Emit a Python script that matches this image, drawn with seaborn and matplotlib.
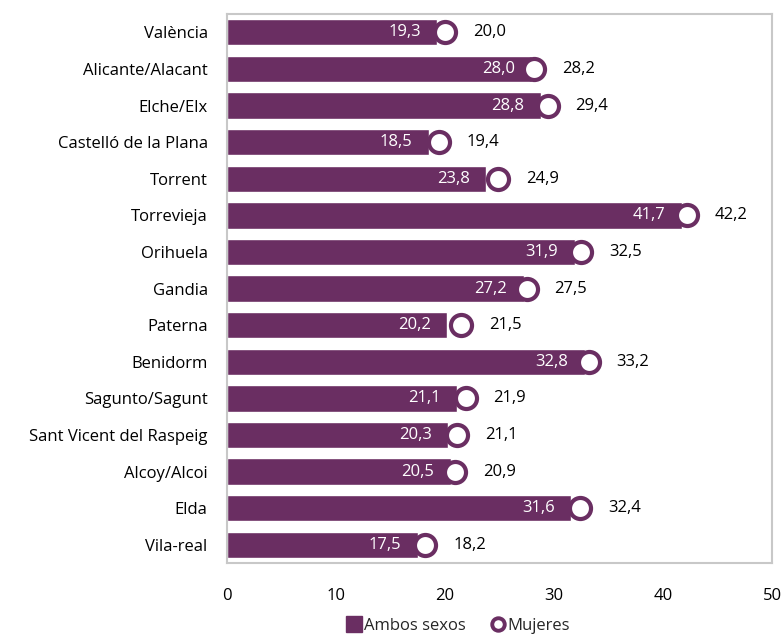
import matplotlib
matplotlib.use("Agg")
import matplotlib.pyplot as plt
from matplotlib.lines import Line2D
import seaborn as sns
import pandas as pd

municipios = ["València", "Alicante/Alacant", "Elche/Elx", "Castelló de la Plana",
              "Torrent", "Torrevieja", "Orihuela", "Gandia", "Paterna", "Benidorm",
              "Sagunto/Sagunt", "Sant Vicent del Raspeig", "Alcoy/Alcoi", "Elda", "Vila-real"]
ambos_sexos = [19.3, 28.0, 28.8, 18.5, 23.8, 41.7, 31.9, 27.2, 20.2, 32.8, 21.1, 20.3, 20.5, 31.6, 17.5]
mujeres = [20.0, 28.2, 29.4, 19.4, 24.9, 42.2, 32.5, 27.5, 21.5, 33.2, 21.9, 21.1, 20.9, 32.4, 18.2]
xticks = [0, 10, 20, 30, 40, 50]

PURPLE = "#6A2E62"
FS = 12

sns.set_theme(style="white")
plt.rcParams["font.family"] = ["Open Sans", "DejaVu Sans"]

df = pd.DataFrame({"municipio": municipios, "ambos": ambos_sexos, "mujeres": mujeres})

fig = plt.figure(figsize=(7.83, 6.37), dpi=100)
ax = fig.add_axes([0.29, 0.116, 0.696, 0.862])

sns.barplot(data=df, x="ambos", y="municipio", orient="h", color=PURPLE,
            saturation=1, width=0.72, ax=ax, zorder=2)
sns.scatterplot(data=df, x="mujeres", y="municipio", ax=ax, marker="o", s=230,
                facecolor="white", edgecolor=PURPLE, linewidth=3, zorder=3, legend=False)

def fmt(v):
    return f"{v:.1f}".replace(".", ",")

for i, (a, m) in enumerate(zip(ambos_sexos, mujeres)):
    ax.annotate(fmt(a), xy=(a, i), xytext=(-12, 0), textcoords="offset points",
                ha="right", va="center", color="white", fontsize=FS, zorder=4)
    ax.annotate(fmt(m), xy=(m, i), xytext=(20, 0), textcoords="offset points",
                ha="left", va="center", color="black", fontsize=FS, zorder=4)

ax.set_xlim(0, 50)
ax.set_ylim(len(municipios) - 0.5, -0.5)
ax.set_xticks(xticks)
ax.set_xticklabels([str(t) for t in xticks])
ax.set_xlabel("")
ax.set_ylabel("")
ax.tick_params(axis="x", length=0, pad=18, labelsize=FS, colors="black")
ax.tick_params(axis="y", length=0, pad=14, labelsize=FS, colors="black")
for s in ax.spines.values():
    s.set_visible(True)
    s.set_color("#C8C8C8")
    s.set_linewidth(1.5)

handles = [
    Line2D([], [], marker="s", linestyle="none", markersize=11,
           markerfacecolor=PURPLE, markeredgecolor=PURPLE, label="Ambos sexos"),
    Line2D([], [], marker="o", linestyle="none", markersize=9,
           markerfacecolor="white", markeredgecolor=PURPLE, markeredgewidth=2.8, label="Mujeres"),
]
fig.legend(handles=handles, loc="center", bbox_to_anchor=(0.585, 0.017), ncol=2,
           frameon=False, fontsize=FS, handletextpad=0.1, columnspacing=1.4,
           handlelength=1.0)

fig.savefig("out.png", dpi=100)
